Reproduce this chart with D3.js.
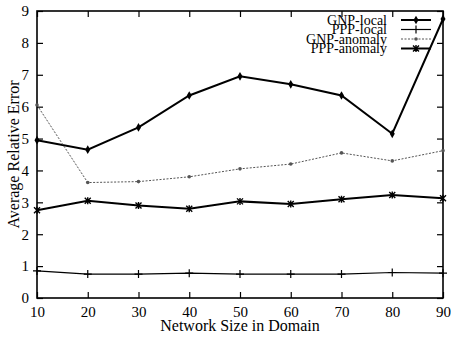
<!DOCTYPE html>
<html>
<head>
<meta charset="utf-8">
<script src="https://cdn.jsdelivr.net/npm/d3@7"></script>
<style>
body { margin: 0; background: #fff; }
text { font-family: "Liberation Serif", "DejaVu Serif", serif; fill: #000; }
</style>
</head>
<body>
<div id="chart"></div>
<script>
var w = 451, h = 337;

// data
var sizes = [10, 20, 30, 40, 50, 60, 70, 80, 90];
var gnpLocal = [4.95, 4.65, 5.35, 6.35, 6.95, 6.7, 6.35, 5.15, 8.75];
var pppLocal = [0.85, 0.75, 0.75, 0.78, 0.75, 0.75, 0.75, 0.8, 0.78];
var gnpAnomaly = [6.05, 3.62, 3.65, 3.8, 4.05, 4.2, 4.55, 4.3, 4.62];
var pppAnomaly = [2.75, 3.05, 2.9, 2.8, 3.03, 2.95, 3.1, 3.23, 3.13];
var seriesNames = ["GNP-local", "PPP-local", "GNP-anomaly", "PPP-anomaly"];
var yTicks = [0, 1, 2, 3, 4, 5, 6, 7, 8, 9];

var m = {top: 11, right: 8, bottom: 39, left: 37};
var width = w - m.left - m.right,
    height = h - m.top - m.bottom;

var svg = d3.select("#chart").append("svg")
  .attr("width", w)
  .attr("height", h);

var g = svg.append("g")
  .attr("transform", "translate(" + m.left + "," + m.top + ")");

var x = d3.scaleLinear().domain([10, 90]).range([0, width]);
var y = d3.scaleLinear().domain([0, 9]).range([height, 0]);

// axes: gnuplot style, ticks pointing in on all four sides
g.append("g")
  .attr("transform", "translate(0," + height + ")")
  .call(d3.axisBottom(x).tickValues(sizes).tickSizeInner(-6).tickSizeOuter(0).tickPadding(8))
  .call(function(a) { a.select(".domain").remove(); a.selectAll("text").attr("font-size", 15).attr("font-family", "Liberation Serif"); });
g.append("g")
  .call(d3.axisTop(x).tickValues(sizes).tickSizeInner(-6).tickSizeOuter(0).tickFormat(""))
  .call(function(a) { a.select(".domain").remove(); });
g.append("g")
  .call(d3.axisLeft(y).tickValues(yTicks).tickSizeInner(-6).tickSizeOuter(0).tickPadding(8))
  .call(function(a) { a.select(".domain").remove(); a.selectAll("text").attr("font-size", 15).attr("font-family", "Liberation Serif"); });
g.append("g")
  .attr("transform", "translate(" + width + ",0)")
  .call(d3.axisRight(y).tickValues(yTicks).tickSizeInner(-6).tickSizeOuter(0).tickFormat(""))
  .call(function(a) { a.select(".domain").remove(); });
g.selectAll(".tick line").attr("stroke", "#000").attr("stroke-width", 1.2);

g.append("rect")
  .attr("width", width).attr("height", height)
  .attr("fill", "none").attr("stroke", "#000").attr("stroke-width", 1.6);

// series
var series = [
  {name: seriesNames[0], vals: gnpLocal, sw: 2, color: "#000", dash: null, mark: "diamond"},
  {name: seriesNames[1], vals: pppLocal, sw: 1.2, color: "#000", dash: null, mark: "plus"},
  {name: seriesNames[2], vals: gnpAnomaly, sw: 1, color: "#555", dash: "2,1.5", mark: "dot"},
  {name: seriesNames[3], vals: pppAnomaly, sw: 2, color: "#000", dash: null, mark: "star"}
];

var line = d3.line()
  .x(function(d, i) { return x(sizes[i]); })
  .y(function(d) { return y(d); });

function drawMark(sel, s, px, py) {
  if (s.mark == "diamond") {
    sel.append("path").attr("d", d3.symbol().type(d3.symbolDiamond).size(22)())
      .attr("transform", "translate(" + px + "," + py + ")").attr("fill", s.color);
  } else if (s.mark == "plus") {
    sel.append("path").attr("d", "M" + (px - 4) + "," + py + "H" + (px + 4) + "M" + px + "," + (py - 4) + "V" + (py + 4))
      .attr("stroke", s.color).attr("stroke-width", 1.2);
  } else if (s.mark == "dot") {
    sel.append("circle").attr("cx", px).attr("cy", py).attr("r", 1.8).attr("fill", s.color);
  } else {
    sel.append("path").attr("d", "M" + (px - 3) + "," + (py - 3) + "L" + (px + 3) + "," + (py + 3) +
      "M" + (px - 3) + "," + (py + 3) + "L" + (px + 3) + "," + (py - 3) +
      "M" + px + "," + (py - 3.5) + "V" + (py + 3.5))
      .attr("stroke", s.color).attr("stroke-width", 1.4);
  }
}

series.forEach(function(s) {
  g.append("path")
    .datum(s.vals)
    .attr("d", line)
    .attr("fill", "none")
    .attr("stroke", s.color)
    .attr("stroke-width", s.sw)
    .attr("stroke-dasharray", s.dash);
  var mk = g.append("g");
  s.vals.forEach(function(v, i) { drawMark(mk, s, x(sizes[i]), y(v)); });
});

// legend, rows packed tight like the original
var leg = g.append("g").attr("transform", "translate(" + (width - 42) + ",9)");
series.forEach(function(s, i) {
  var yy = i * 9.5;
  leg.append("text")
    .attr("x", -14).attr("y", yy + 4.5)
    .attr("text-anchor", "end")
    .attr("font-size", 14)
    .text(s.name);
  leg.append("line")
    .attr("x1", 0).attr("x2", 30).attr("y1", yy).attr("y2", yy)
    .attr("stroke", s.color).attr("stroke-width", s.sw)
    .attr("stroke-dasharray", s.dash);
  drawMark(leg, s, 15, yy);
});

// axis titles
svg.append("text")
  .attr("x", m.left + width / 2)
  .attr("y", 331)
  .attr("text-anchor", "middle")
  .attr("font-size", 16)
  .text("Network Size in Domain");
svg.append("text")
  .attr("transform", "translate(19," + (m.top + height / 2) + ") rotate(-90)")
  .attr("text-anchor", "middle")
  .attr("font-size", 16)
  .text("Average Relative Error");
</script>
</body>
</html>
